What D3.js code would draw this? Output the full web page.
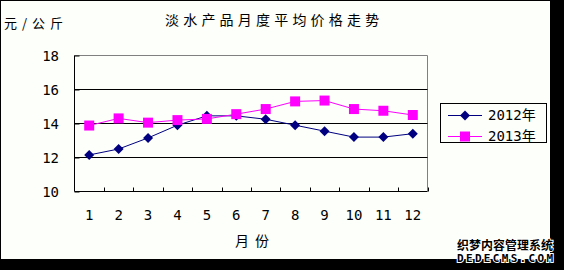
<!DOCTYPE html>
<html>
<head>
<meta charset="utf-8">
<script src="https://cdn.jsdelivr.net/npm/d3@7"></script>
<style>
  body { margin: 0; background: #000; }
  svg { display: block; }
</style>
</head>
<body>
<svg id="svg"></svg>
<script>
// values
const months = ["1", "2", "3", "4", "5", "6", "7", "8", "9", "10", "11", "12"];
const price2012 = [12.15, 12.5, 13.15, 13.9, 14.45, 14.45, 14.25, 13.9, 13.55, 13.2, 13.2, 13.4];
const price2013 = [13.88, 14.3, 14.05, 14.2, 14.27, 14.55, 14.85, 15.3, 15.35, 14.85, 14.75, 14.5];
const yTicks = [10, 12, 14, 16, 18];
const seriesNames = ["2012年", "2013年"];

const width = 564, height = 270;
const cjk = "'Noto Sans CJK SC', sans-serif";
const mono = "'DejaVu Sans Mono', 'Noto Sans CJK SC', monospace";

let svg = d3.select("#svg").attr("width", width).attr("height", height);

// black frame / shadow, light chart face
svg.append("rect").attr("width", width).attr("height", height).attr("fill", "#000");
svg.append("rect").attr("x", 1).attr("y", 1).attr("width", 549).attr("height", 258).attr("fill", "#fcfffa");

let x = d3.scaleBand().domain(months).range([74.5, 427.5]).padding(0);
let y = d3.scaleLinear().domain([10, 18]).range([191.5, 55.5]);

// plot border: top/right grey
svg.append("path")
  .attr("d", `M${x.range()[0]},${y(18)}H${x.range()[1]}V${y(10)}`)
  .attr("fill", "none").attr("stroke", "#808080");

// gridlines
svg.append("g").selectAll("line")
  .data(yTicks.filter(function(d){ return d > 10 && d < 18 }))
  .join("line")
  .attr("x1", x.range()[0]).attr("x2", x.range()[1])
  .attr("y1", function(d){ return y(d) }).attr("y2", function(d){ return y(d) })
  .attr("stroke", "#000");

// y axis, ticks inside
let yAxis = svg.append("g")
  .attr("transform", `translate(${x.range()[0]},0)`)
  .call(d3.axisRight(y).tickValues(yTicks).tickSize(5).tickFormat(""));
yAxis.select(".domain").attr("stroke", "#000").attr("d", `M0,${y(18)}V${y(10)}`);
yAxis.selectAll(".tick line").attr("stroke", "#000");

svg.append("g").selectAll("text")
  .data(yTicks)
  .join("text")
  .attr("x", 59).attr("y", function(d){ return y(d) + 5 })
  .attr("text-anchor", "end")
  .style("font", "14px " + mono)
  .text(function(d){ return d });

// x axis, ticks at category boundaries pointing up
let bounds = months.map(function(m){ return x(m) }).concat([x.range()[1]]);
let xAxis = svg.append("g");
xAxis.append("line")
  .attr("x1", x.range()[0]).attr("x2", x.range()[1])
  .attr("y1", y(10)).attr("y2", y(10)).attr("stroke", "#000");
xAxis.selectAll("line.tick")
  .data(bounds.slice(1))
  .join("line").attr("class", "tick")
  .attr("x1", function(d){ return Math.round(d) + 0.5 }).attr("x2", function(d){ return Math.round(d) + 0.5 })
  .attr("y1", y(10)).attr("y2", y(10) - 4).attr("stroke", "#000");
xAxis.selectAll("text")
  .data(months)
  .join("text")
  .attr("x", function(d){ return x(d) + x.bandwidth() / 2 })
  .attr("y", 220)
  .attr("text-anchor", "middle")
  .style("font", "14px " + mono)
  .text(function(d){ return d });

// titles
svg.append("text").attr("x", 165).attr("y", 25)
  .style("font", "14px " + cjk).style("letter-spacing", "4.2px")
  .text("淡水产品月度平均价格走势");
svg.append("text").attr("x", 4).attr("y", 28)
  .style("font", "13px " + cjk).style("letter-spacing", "5px")
  .text("元/公斤");
svg.append("text").attr("x", 235).attr("y", 246)
  .style("font", "14px " + cjk).style("letter-spacing", "6px")
  .text("月份");

// series
let cx = function(d, i){ return x(months[i]) + x.bandwidth() / 2 };
let line = d3.line().x(cx).y(function(d){ return y(d) });
const colors = ["#000080", "#ff00ff"];
const diamond = "M0,-5L5,0L0,5L-5,0Z";
const square = "M-5,-5H5V5H-5Z";

[price2012, price2013].forEach(function(vals, k) {
  svg.append("path").datum(vals)
    .attr("d", line).attr("fill", "none").attr("stroke", colors[k]).attr("stroke-width", 1);
  svg.append("g").selectAll("path")
    .data(vals)
    .join("path")
    .attr("transform", function(d, i){ return `translate(${cx(d, i)},${y(d)})` })
    .attr("d", k == 0 ? diamond : square)
    .attr("fill", colors[k]);
});

// legend
let legend = svg.append("g");
legend.append("rect").attr("x", 440.5).attr("y", 103.5).attr("width", 106).attr("height", 39)
  .attr("fill", "none").attr("stroke", "#000");
seriesNames.forEach(function(name, k) {
  let ly = k == 0 ? 115 : 136;
  legend.append("line").attr("x1", 448).attr("x2", 482).attr("y1", ly + 0.5).attr("y2", ly + 0.5)
    .attr("stroke", colors[k]);
  legend.append("path").attr("transform", `translate(465,${ly + 0.5})`)
    .attr("d", k == 0 ? diamond : square).attr("fill", colors[k]);
  legend.append("text").attr("x", 488).attr("y", ly + 5)
    .style("font", "14px " + mono).text(name);
});

// watermark
let wm = svg.append("g").attr("fill", "#000").attr("stroke", "#fff").attr("stroke-width", 2)
  .style("paint-order", "stroke");
wm.append("text").attr("x", 457).attr("y", 250).attr("textLength", 96)
  .style("font", "bold 12px " + cjk).text("织梦内容管理系统");
wm.append("text").attr("x", 457).attr("y", 262).attr("textLength", 96)
  .style("font", "bold 11px " + mono).text("DEDECMS.COM");
</script>
</body>
</html>
